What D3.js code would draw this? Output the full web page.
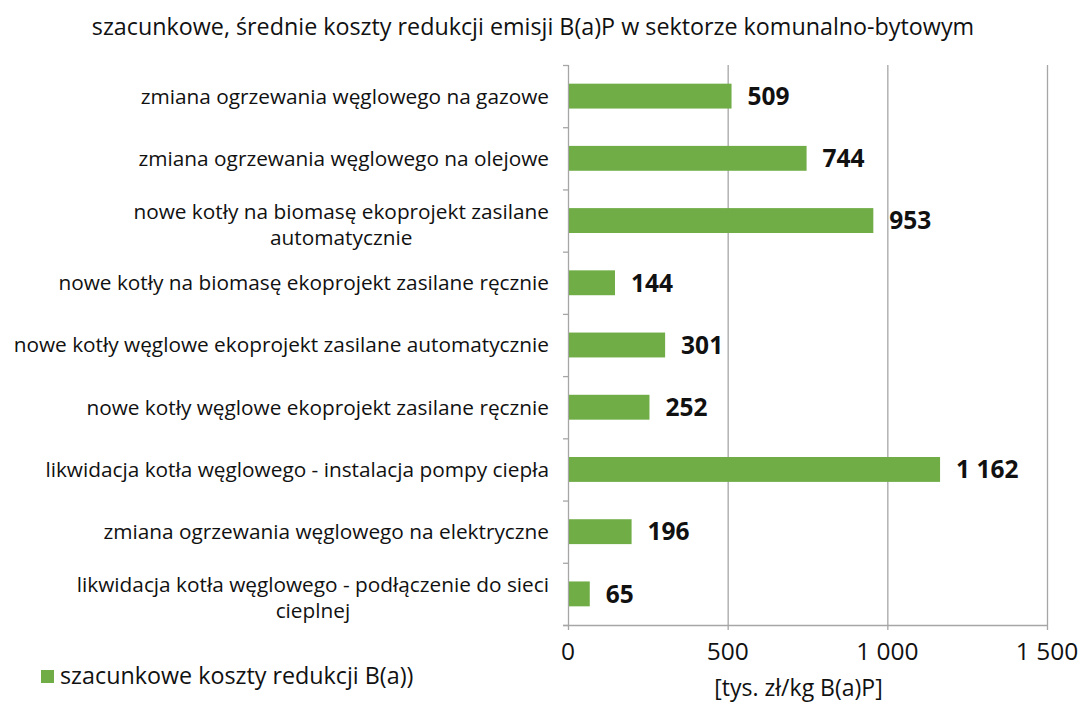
<!DOCTYPE html>
<html lang="pl">
<head>
<meta charset="utf-8">
<title>Koszty redukcji emisji B(a)P</title>
<script src="https://d3js.org/d3.v7.min.js"></script>
<style>
body { margin: 0; background: #fff; }
text { font-family: "Open Sans", sans-serif; fill: #111; }
</style>
</head>
<body>
<div id="chart"></div>
<script>
// data
var categories = [
  ["zmiana ogrzewania węglowego na gazowe"],
  ["zmiana ogrzewania węglowego na olejowe"],
  ["nowe kotły na biomasę ekoprojekt zasilane", "automatycznie"],
  ["nowe kotły na biomasę ekoprojekt zasilane ręcznie"],
  ["nowe kotły węglowe ekoprojekt zasilane automatycznie"],
  ["nowe kotły węglowe ekoprojekt zasilane ręcznie"],
  ["likwidacja kotła węglowego - instalacja pompy ciepła"],
  ["zmiana ogrzewania węglowego na elektryczne"],
  ["likwidacja kotła węglowego - podłączenie do sieci", "cieplnej"]
];
var values = [509, 744, 953, 144, 301, 252, 1162, 196, 65];
var xTicks = [0, 500, 1000, 1500];
var title = "szacunkowe, średnie koszty redukcji emisji B(a)P w sektorze komunalno-bytowym";
var seriesName = "szacunkowe koszty redukcji B(a))";
var axisTitle = "[tys. zł/kg B(a)P]";

var W = 1081, H = 704;
var margin = {top: 65, right: 34, bottom: 79, left: 568};
var width = W - margin.left - margin.right,
    height = H - margin.top - margin.bottom;

var svg = d3.select("#chart").append("svg")
  .attr("width", W).attr("height", H);

var g = svg.append("g")
  .attr("transform", "translate(" + margin.left + "," + margin.top + ")");

var fmt = function(v) { return d3.format(",")(v).replace(/,/g, " "); };

var x = d3.scaleLinear().domain([0, 1500]).range([0, width]);
var y = d3.scaleBand().domain(d3.range(values.length)).range([0, height]).paddingInner(0.6).paddingOuter(0.3);
var yTick = d3.scaleLinear().domain([0, values.length]).range([0, height]);

// vertical gridlines
g.selectAll(".grid").data(xTicks).enter().append("line")
  .attr("x1", function(d) { return x(d) + 0.5; })
  .attr("x2", function(d) { return x(d) + 0.5; })
  .attr("y1", 0).attr("y2", height + 5)
  .attr("stroke", "#a6a6a6").attr("stroke-width", 1.3);

// y axis ticks between categories
g.selectAll(".ytick").data(d3.range(values.length + 1)).enter().append("line")
  .attr("x1", -5).attr("x2", 0.5)
  .attr("y1", function(d) { return yTick(d) + 0.5; })
  .attr("y2", function(d) { return yTick(d) + 0.5; })
  .attr("stroke", "#a6a6a6").attr("stroke-width", 1.3);

// x axis line
g.append("line")
  .attr("x1", -5).attr("x2", x(1500) + 0.5)
  .attr("y1", height + 0.5).attr("y2", height + 0.5)
  .attr("stroke", "#a6a6a6").attr("stroke-width", 1.3);

// bars
g.selectAll(".bar").data(values).enter().append("rect")
  .attr("x", x(0) + 1)
  .attr("y", function(d, i) { return y(i); })
  .attr("width", function(d) { return x(d) - x(0); })
  .attr("height", y.bandwidth())
  .attr("fill", "#70ad47");

// value labels
g.selectAll(".val").data(values).enter().append("text")
  .attr("x", function(d) { return x(d) + 17; })
  .attr("y", function(d, i) { return y(i) + y.bandwidth() / 2; })
  .attr("dy", "0.36em")
  .style("font-size", "24.5px").style("font-weight", "bold")
  .text(function(d) { return fmt(d); });

// category labels (multi-line blocks centered, right edge at axis)
categories.forEach(function(lines, i) {
  var cy = y(i) + y.bandwidth() / 2 + (lines.length > 1 ? 4 : 0);
  var lh = 26;
  var t = g.append("text")
    .style("font-size", "20.8px")
    .attr("text-anchor", "middle");
  lines.forEach(function(l, k) {
    t.append("tspan").attr("x", 0)
      .attr("y", cy + (k - (lines.length - 1) / 2) * lh)
      .attr("dy", "0.36em")
      .text(l);
  });
  var w = t.node().getBBox().width;
  t.selectAll("tspan").attr("x", -19 - w / 2);
});

// x tick labels
g.selectAll(".xlab").data(xTicks).enter().append("text")
  .attr("x", function(d) { return x(d); })
  .attr("y", height + 35)
  .attr("text-anchor", "middle")
  .style("font-size", "24.5px")
  .text(function(d) { return fmt(d); });

// axis title
g.append("text")
  .attr("x", width / 2 - 9)
  .attr("y", height + 71)
  .attr("text-anchor", "middle")
  .style("font-size", "23px")
  .text(axisTitle);

// chart title
svg.append("text")
  .attr("x", 533).attr("y", 35)
  .attr("text-anchor", "middle")
  .style("font-size", "23.3px")
  .text(title);

// legend
svg.append("rect")
  .attr("x", 41).attr("y", 670).attr("width", 13).attr("height", 13)
  .attr("fill", "#70ad47");
svg.append("text")
  .attr("x", 60).attr("y", 684)
  .style("font-size", "23.3px")
  .text(seriesName);
</script>
</body>
</html>
